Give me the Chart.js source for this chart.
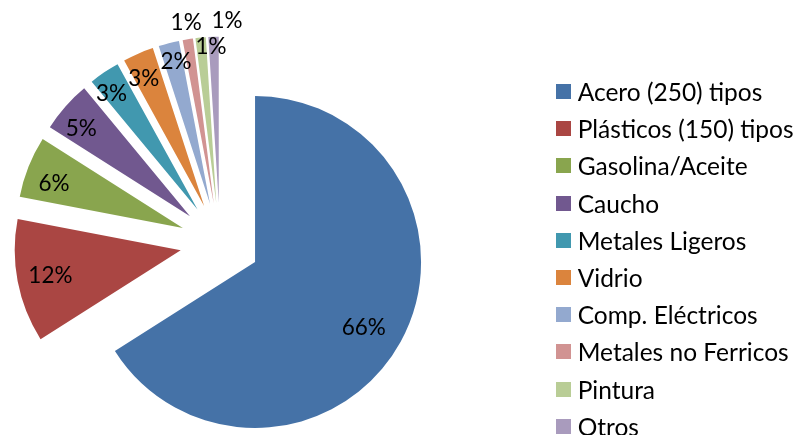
<!DOCTYPE html>
<html><head><meta charset="utf-8">
<script src="https://cdn.jsdelivr.net/npm/chart.js@4"></script>
<style>
html,body{margin:0;padding:0;background:#fff;overflow:hidden}
#wrap{width:794px;height:435px;position:relative;overflow:hidden}
#legend{position:absolute;left:0;top:0;width:794px;height:435px;pointer-events:none}
.lg-row{position:absolute;display:flex;align-items:center;white-space:nowrap;font-family:Lato,sans-serif;color:#000}
.lg-box{flex:none}
</style>
</head><body><div id="wrap"><canvas id="c"></canvas><div id="legend"></div></div>
<script>
// ---- data ----
const categories = ['Acero (250) tipos', 'Plásticos (150) tipos', 'Gasolina/Aceite', 'Caucho', 'Metales Ligeros', 'Vidrio', 'Comp. Eléctricos', 'Metales no Ferricos', 'Pintura', 'Otros'];
const shares = [66, 12, 6, 5, 3, 3, 2, 1, 1, 1];

// ---- styles ----
const colors = ['#4572A7', '#AA4643', '#89A54E', '#71588F', '#4198AF', '#DB843D', '#93A9CF', '#D19392', '#B9CD96', '#A99BBD'];
const labelRadius = [0.765, 0.80, 0.82, 0.84, 0.87, 0.85, 0.88, 1.10, 0.94, 1.10];
const labelShiftDeg = [2.3, -0.4, -2.7, -2.7, -2.3, -1.9, 0.9, 0.3, 3.5, 4.4];
const EXPLODE = 40, RADIUS = 166;
const CX = 220, CY = 242.7;
const FONT = 'Lato';
const LEGEND_SIZE = 24.5, LABEL_SIZE = 22.5;
const BOX = 15, BOX_LEFT = 556, TEXT_GAP = 6.7, ROW0 = 91.5, ROWGAP = 37.2;
const W = 794, H = 435;

const total = shares.reduce((a, b) => a + b, 0);

const explodePlugin = {
  id: 'explode',
  beforeDatasetDraw(chart, args) {
    const ctx = chart.ctx;
    const arcs = args.meta.data;
    arcs.forEach(arc => {
      const mid = (arc.startAngle + arc.endAngle) / 2;
      ctx.save();
      ctx.translate(Math.cos(mid) * EXPLODE, Math.sin(mid) * EXPLODE);
      arc.draw(ctx);
      ctx.restore();
    });
    ctx.save();
    ctx.font = LABEL_SIZE + 'px ' + FONT;
    ctx.fillStyle = '#000';
    ctx.textAlign = 'center';
    ctx.textBaseline = 'middle';
    arcs.forEach((arc, i) => {
      const mid = (arc.startAngle + arc.endAngle) / 2;
      const cx = arc.x + Math.cos(mid) * EXPLODE;
      const cy = arc.y + Math.sin(mid) * EXPLODE;
      const a = mid + labelShiftDeg[i] * Math.PI / 180;
      const r = labelRadius[i] * arc.outerRadius;
      const v = chart.data.datasets[0].data[i];
      ctx.fillText(Math.round(v / total * 100) + '%', cx + Math.cos(a) * r, cy + Math.sin(a) * r);
    });
    ctx.restore();
    return false;
  }
};

const htmlLegendPlugin = {
  id: 'htmlLegend',
  afterUpdate(chart) {
    const host = document.getElementById('legend');
    host.innerHTML = '';
    const items = chart.options.plugins.legend.labels.generateLabels(chart);
    items.forEach((item, i) => {
      const row = document.createElement('div');
      row.className = 'lg-row';
      row.style.left = BOX_LEFT + 'px';
      row.style.top = (ROW0 - ROWGAP / 2 + i * ROWGAP) + 'px';
      row.style.height = ROWGAP + 'px';
      row.style.fontSize = LEGEND_SIZE + 'px';
      const box = document.createElement('span');
      box.className = 'lg-box';
      box.style.width = BOX + 'px';
      box.style.height = BOX + 'px';
      box.style.background = item.fillStyle;
      box.style.marginRight = TEXT_GAP + 'px';
      const txt = document.createElement('span');
      txt.textContent = item.text;
      row.appendChild(box);
      row.appendChild(txt);
      host.appendChild(row);
    });
  }
};

new Chart(document.getElementById('c'), {
  type: 'pie',
  data: {
    labels: categories,
    datasets: [{
      data: shares,
      backgroundColor: colors,
      borderWidth: 0
    }]
  },
  options: {
    responsive: true,
    maintainAspectRatio: false,
    animation: false,
    events: [],
    radius: RADIUS,
    layout: { padding: { left: 0, right: W - 2 * CX, top: 2 * CY - H, bottom: 0 } },
    plugins: {
      tooltip: { enabled: false },
      legend: { display: false }
    }
  },
  plugins: [explodePlugin, htmlLegendPlugin]
});
</script>
</body></html>
